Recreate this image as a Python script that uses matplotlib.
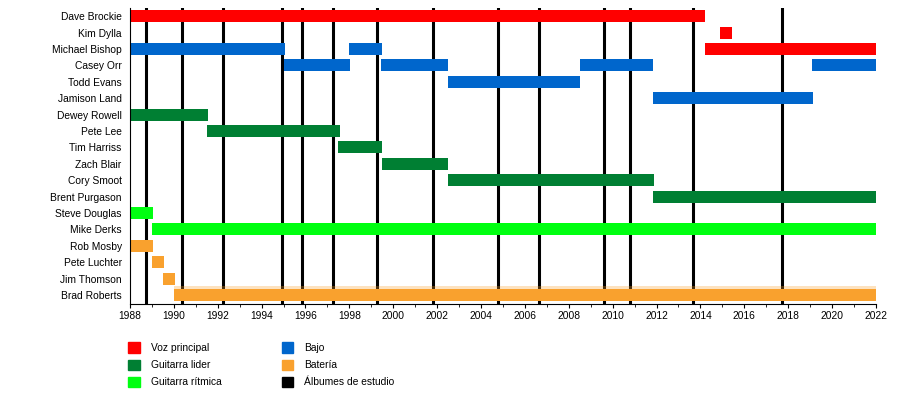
import matplotlib
matplotlib.use("Agg")
import matplotlib.pyplot as plt
import matplotlib.patches as mpatches
import numpy as np

plt.rcParams['font.family'] = ['Liberation Sans', 'DejaVu Sans']

members = ["Dave Brockie", "Kim Dylla", "Michael Bishop", "Casey Orr", "Todd Evans",
           "Jamison Land", "Dewey Rowell", "Pete Lee", "Tim Harriss", "Zach Blair",
           "Cory Smoot", "Brent Purgason", "Steve Douglas", "Mike Derks", "Rob Mosby",
           "Pete Luchter", "Jim Thomson", "Brad Roberts"]

# member, start, end, role
bar_member = ["Dave Brockie", "Kim Dylla", "Michael Bishop", "Michael Bishop", "Michael Bishop",
              "Casey Orr", "Casey Orr", "Casey Orr", "Casey Orr", "Todd Evans", "Jamison Land",
              "Dewey Rowell", "Pete Lee", "Tim Harriss", "Zach Blair", "Cory Smoot",
              "Brent Purgason", "Steve Douglas", "Mike Derks", "Rob Mosby", "Pete Luchter",
              "Jim Thomson", "Brad Roberts"]
bar_start = [1988.0, 2014.9, 1988.0, 1998.0, 2014.2,
             1995.0, 1999.45, 2008.5, 2019.1, 2002.5, 2011.85,
             1988.0, 1991.5, 1997.5, 1999.5, 2002.5,
             2011.85, 1988.0, 1989.0, 1988.0, 1989.0,
             1989.5, 1990.0]
bar_end = [2014.2, 2015.45, 1995.05, 1999.5, 2022.0,
           1998.05, 2002.5, 2011.85, 2022.0, 2008.5, 2019.15,
           1991.55, 1997.55, 1999.5, 2002.5, 2011.9,
           2022.0, 1989.05, 2022.0, 1989.05, 1989.55,
           1990.05, 2022.0]
bar_role = ["vocal", "vocal", "bass", "bass", "vocal",
            "bass", "bass", "bass", "bass", "bass", "bass",
            "lead", "lead", "lead", "lead", "lead",
            "lead", "rhythm", "rhythm", "drums", "drums",
            "drums", "drums"]

albums = [1988.73, 1990.37, 1992.24, 1994.93, 1995.84, 1997.25, 1999.26, 2001.81,
          2004.77, 2006.64, 2009.6, 2010.79, 2013.66, 2017.72]

role_colors = {"vocal": "#FF0000", "lead": "#007F33", "rhythm": "#00FF11",
               "bass": "#0066CC", "drums": "#F9A12E", "album": "#000000"}
role_labels = {"vocal": "Voz principal", "lead": "Guitarra lider", "rhythm": "Guitarra rítmica",
               "bass": "Bajo", "drums": "Batería", "album": "Álbumes de estudio"}

fig = plt.figure(figsize=(9, 3.99), dpi=100)
ax = fig.add_axes([0.1444, 0.238, 0.9733 - 0.1444, 0.742])

for x in albums:
    ax.axvline(x, color="black", lw=2.2, zorder=1)

ypos = {m: i for i, m in enumerate(members)}
for m, s, e, r in zip(bar_member, bar_start, bar_end, bar_role):
    ax.barh(ypos[m], e - s, left=s, height=0.74, color=role_colors[r], zorder=2)
    if m == "Brad Roberts":
        ax.barh(ypos[m] - 0.2, e - s, left=s, height=0.7, color=role_colors[r],
                alpha=0.3, zorder=2, lw=0)

ax.set_xlim(1988, 2022)
ax.set_ylim(17.55, -0.5)
ax.set_yticks(range(len(members)))
ax.set_yticklabels(members, fontsize=7.4)
ax.tick_params(axis="y", length=0, pad=6)
ax.set_xticks(np.arange(1988, 2023, 2))
ax.set_xticks(np.arange(1988, 2023, 1), minor=True)
ax.tick_params(axis="x", labelsize=7.4, length=3, width=0.8, pad=2)
ax.tick_params(axis="x", which="minor", length=2, width=0.6)
ax.spines["top"].set_visible(False)
ax.spines["right"].set_visible(False)

order = ["vocal", "lead", "rhythm", "bass", "drums", "album"]
handles = [mpatches.Patch(color=role_colors[k], label=role_labels[k]) for k in order]
fig.legend(handles=handles, loc="upper left", bbox_to_anchor=(0.132, 0.165), ncol=2,
           frameon=False, fontsize=7.4, handlelength=1.15, handleheight=1.2,
           columnspacing=5.85, labelspacing=0.62, handletextpad=1.05)

fig.savefig("out.png", dpi=100)
